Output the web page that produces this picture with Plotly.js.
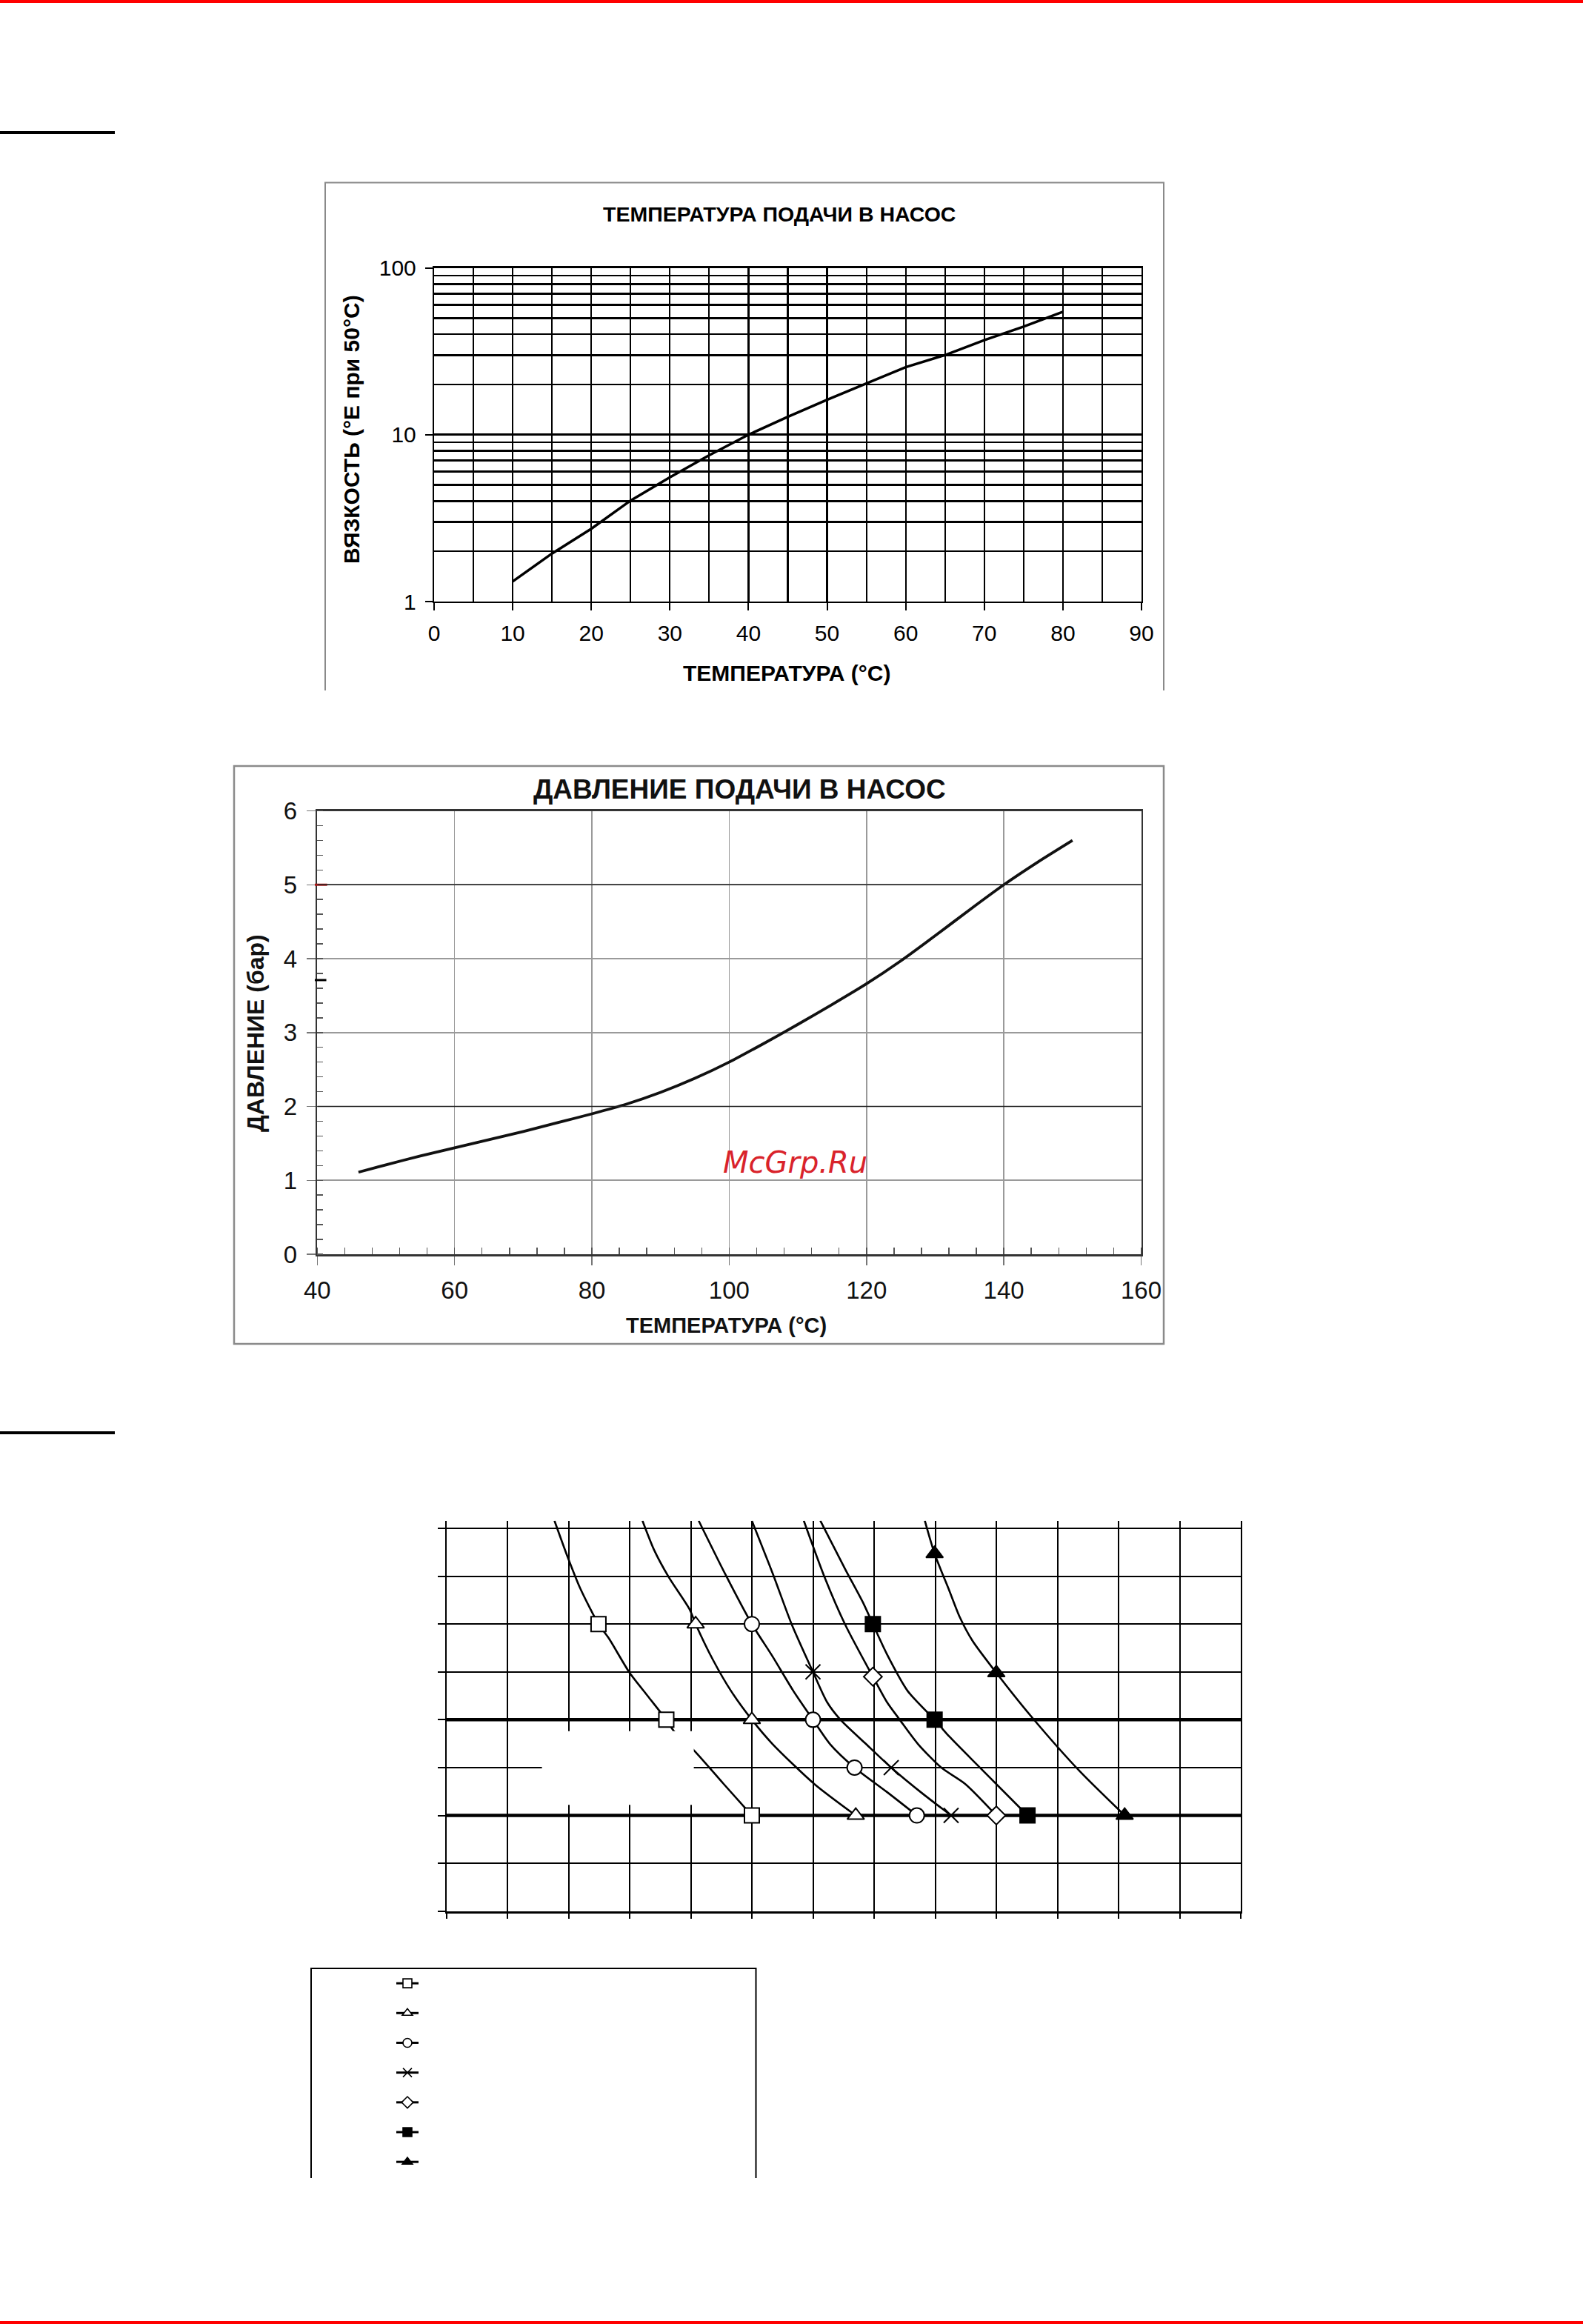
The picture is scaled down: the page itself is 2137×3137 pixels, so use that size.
<!DOCTYPE html>
<html>
<head>
<meta charset="utf-8">
<script src="https://cdn.plot.ly/plotly-3.0.1.min.js"></script>
<style>
  html, body { margin: 0; padding: 0; background: #fff; }
  #page { width: 2137px; height: 3137px; }
</style>
</head>
<body>
<div id="page"></div>
<script>
// ---------------- DATA ----------------
// Chart 1: viscosity vs temperature (log scale)
const viscTemp = [10, 15, 20, 25, 30, 35, 40, 45, 50, 55, 60, 65, 70, 75, 80];
const viscValue = [1.32, 1.94, 2.73, 4.03, 5.55, 7.53, 10, 12.8, 16.2, 20.2, 25.4, 30, 36.9, 44.4, 54.5];
const viscXTicks = [0, 10, 20, 30, 40, 50, 60, 70, 80, 90];
const viscYTicks = [1, 10, 100];

// Chart 2: pressure vs temperature
const pressTemp = [46, 50, 55, 60, 65, 70, 75, 80, 85, 90, 95, 100, 105, 110, 115, 120, 125, 130, 135, 140, 145, 150];
const pressValue = [1.11, 1.21, 1.33, 1.44, 1.55, 1.66, 1.78, 1.90, 2.03, 2.19, 2.38, 2.60, 2.85, 3.11, 3.38, 3.66, 3.97, 4.31, 4.66, 5.00, 5.31, 5.60];
const darkLevels2 = [2, 5];

// Chart 3: seven unlabeled curves (grid units)
const s1x = [1.77, 1.98, 2.19, 2.49, 2.66, 3.00, 3.30, 3.60, 3.72, 4.06, 4.53, 5.00];
const s1y = [8.16, 7.42, 6.75, 6.00, 5.70, 4.98, 4.49, 4.00, 3.77, 3.35, 2.67, 2.00];
const s1mx = [2.49, 3.60, 5.00];
const s1my = [6.00, 4.00, 2.00];

const s2x = [3.21, 3.40, 3.64, 3.98, 4.08, 4.36, 4.66, 5.00, 5.34, 6.02, 6.70];
const s2y = [8.16, 7.55, 6.98, 6.31, 6.00, 5.26, 4.60, 4.00, 3.49, 2.66, 2.00];
const s2mx = [4.08, 5.00, 6.70];
const s2my = [6.00, 4.00, 2.00];

const s3x = [4.13, 4.57, 5.00, 5.34, 5.68, 6.00, 6.28, 6.68, 7.21, 7.70];
const s3y = [8.16, 7.03, 6.00, 5.32, 4.60, 4.00, 3.49, 3.00, 2.49, 2.00];
const s3mx = [5.00, 6.00, 6.68, 7.70];
const s3my = [6.00, 4.00, 3.00, 2.00];

const s4x = [5.00, 5.34, 5.65, 6.00, 6.23, 6.45, 6.87, 7.28, 7.81, 8.26];
const s4y = [8.16, 7.06, 6.00, 5.00, 4.37, 4.00, 3.49, 3.00, 2.44, 2.00];
const s4mx = [6.00, 7.28, 8.26];
const s4my = [5.00, 3.00, 2.00];

const s5x = [5.85, 6.19, 6.53, 6.98, 7.21, 7.42, 7.72, 8.10, 8.49, 9.00];
const s5y = [8.16, 6.98, 5.98, 4.90, 4.37, 4.00, 3.49, 3.00, 2.66, 2.00];
const s5mx = [6.98, 9.00];
const s5my = [4.90, 2.00];

const s6x = [6.12, 6.53, 6.83, 6.98, 7.21, 7.55, 7.99, 8.23, 8.74, 9.51];
const s6y = [8.16, 7.14, 6.42, 6.00, 5.37, 4.60, 4.00, 3.65, 2.99, 2.00];
const s6mx = [6.98, 7.99, 9.51];
const s6my = [6.00, 4.00, 2.00];

const s7x = [7.83, 7.99, 8.23, 8.40, 8.61, 9.00, 9.59, 10.36, 11.10];
const s7y = [8.16, 7.47, 6.70, 6.15, 5.65, 4.98, 4.04, 2.93, 2.00];
const s7mx = [7.99, 9.00, 11.10];
const s7my = [7.47, 4.98, 2.00];

const thickLevels3 = [2, 4];

// ---------------- LAYOUT HELPERS ----------------
const W = 2137, H = 3137;
const px = v => v / W;
const py = v => 1 - v / H;
const FONT = 'Liberation Sans, Arial, sans-serif';

const seriesDefs = [
  {x: s1x, y: s1y, mx: s1mx, my: s1my, symbol: 'square', fill: '#fff', size: 20},
  {x: s2x, y: s2y, mx: s2mx, my: s2my, symbol: 'triangle-up', fill: '#fff', size: 20},
  {x: s3x, y: s3y, mx: s3mx, my: s3my, symbol: 'circle', fill: '#fff', size: 20},
  {x: s4x, y: s4y, mx: s4mx, my: s4my, symbol: 'x-thin-open', fill: '#000', size: 20},
  {x: s5x, y: s5y, mx: s5mx, my: s5my, symbol: 'diamond', fill: '#fff', size: 19},
  {x: s6x, y: s6y, mx: s6mx, my: s6my, symbol: 'square', fill: '#000', size: 20},
  {x: s7x, y: s7y, mx: s7mx, my: s7my, symbol: 'triangle-up', fill: '#000', size: 20}
];

const traces = [];
traces.push({
  x: viscTemp, y: viscValue, xaxis: 'x', yaxis: 'y', type: 'scatter', mode: 'lines',
  line: {color: '#000', width: 3.5}, showlegend: false, hoverinfo: 'skip'
});
traces.push({
  x: pressTemp, y: pressValue, xaxis: 'x2', yaxis: 'y2', type: 'scatter', mode: 'lines',
  line: {color: '#111', width: 3.8, shape: 'spline', smoothing: 0.6}, showlegend: false, hoverinfo: 'skip'
});
seriesDefs.forEach(s => {
  traces.push({
    x: s.x, y: s.y, xaxis: 'x3', yaxis: 'y3', type: 'scatter', mode: 'lines',
    line: {color: '#000', width: 2.6, shape: 'spline', smoothing: 0.7},
    showlegend: false, hoverinfo: 'skip', cliponaxis: true
  });
});
seriesDefs.forEach(s => {
  traces.push({
    x: s.mx, y: s.my, xaxis: 'x3', yaxis: 'y3', type: 'scatter', mode: 'markers',
    marker: {symbol: s.symbol, size: s.size, color: s.fill, line: {color: '#000', width: 2}},
    showlegend: false, hoverinfo: 'skip', cliponaxis: false
  });
});
// legend entries (no labels in the reference)
seriesDefs.forEach(s => {
  traces.push({
    x: [null], y: [null], xaxis: 'x3', yaxis: 'y3', type: 'scatter', mode: 'lines+markers',
    name: ' ', line: {color: '#000', width: 3},
    marker: {symbol: s.symbol, size: 12, color: s.fill, line: {color: '#000', width: 1.6}},
    showlegend: true, hoverinfo: 'skip'
  });
});

const shapes = [
  // red page rules
  {type: 'rect', xref: 'paper', yref: 'paper', x0: 0, x1: 1, y0: py(4), y1: 1, fillcolor: '#ff0000', line: {width: 0}},
  {type: 'rect', xref: 'paper', yref: 'paper', x0: 0, x1: 1, y0: 0, y1: py(3133), fillcolor: '#ff0000', line: {width: 0}},
  // black section rules
  {type: 'rect', xref: 'paper', yref: 'paper', x0: 0, x1: px(155), y0: py(181), y1: py(177), fillcolor: '#000', line: {width: 0}},
  {type: 'rect', xref: 'paper', yref: 'paper', x0: 0, x1: px(155), y0: py(1936), y1: py(1932), fillcolor: '#000', line: {width: 0}},
  // chart 1 frame (open at bottom)
  {type: 'path', xref: 'paper', yref: 'paper',
   path: `M ${px(439)},${py(932)} L ${px(439)},${py(246.5)} L ${px(1571)},${py(246.5)} L ${px(1571)},${py(932)}`,
   line: {color: '#8a8a8a', width: 2}},
  // chart 2 frame
  {type: 'rect', xref: 'paper', yref: 'paper', x0: px(316), x1: px(1571), y0: py(1814), y1: py(1034),
   line: {color: '#8a8a8a', width: 2.5}},
  // legend frame (open at bottom)
  {type: 'path', xref: 'paper', yref: 'paper',
   path: `M ${px(420)},${py(2940)} L ${px(420)},${py(2657)} L ${px(1020.5)},${py(2657)} L ${px(1020.5)},${py(2940)}`,
   line: {color: '#000', width: 2}},
  // chart 2 axis marks
  {type: 'line', xref: 'x2 domain', yref: 'y2', x0: -0.003, x1: 0.012, y0: 5, y1: 5, line: {color: '#b01818', width: 3}},
  {type: 'line', xref: 'x2 domain', yref: 'y2', x0: -0.003, x1: 0.011, y0: 3.71, y1: 3.71, line: {color: '#000', width: 3}}
];
darkLevels2.forEach(v => {
  shapes.push({type: 'line', xref: 'x2', yref: 'y2', x0: 40, x1: 160, y0: v, y1: v,
    line: {color: '#222', width: 1.5}, layer: 'above'});
});
thickLevels3.forEach(v => {
  shapes.push({type: 'line', xref: 'x3', yref: 'y3', x0: 0, x1: 13, y0: v, y1: v,
    line: {color: '#000', width: 4.5}, layer: 'below'});
});
// blanked label box on chart 3
shapes.push({type: 'rect', xref: 'x3', yref: 'y3', x0: 1.565, x1: 4.05, y0: 2.22, y1: 3.76,
  fillcolor: '#fff', line: {width: 0}, layer: 'above'});

const annotations = [
  {text: '<b>ТЕМПЕРАТУРА ПОДАЧИ В НАСОС</b>', x: px(1052), y: py(289), font: {size: 28.5, color: '#000', family: FONT}},
  {text: '<b>ТЕМПЕРАТУРА (°C)</b>', x: px(1062), y: py(909), font: {size: 30, color: '#000', family: FONT}},
  {text: '<b>ВЯЗКОСТЬ (°E при 50°C)</b>', x: px(474), y: py(580), textangle: -90, font: {size: 30, color: '#000', family: FONT}},
  {text: '<b>ДАВЛЕНИЕ ПОДАЧИ В НАСОС</b>', x: px(998), y: py(1065), font: {size: 37, color: '#111', family: FONT}},
  {text: '<b>ТЕМПЕРАТУРА (°C)</b>', x: px(980), y: py(1789), font: {size: 29, color: '#111', family: FONT}},
  {text: '<b>ДАВЛЕНИЕ (бар)</b>', x: px(345), y: py(1395), textangle: -90, font: {size: 32, color: '#111', family: FONT}},
  {text: 'McGrp.Ru', x: px(1073), y: py(1569), font: {size: 40, color: '#d9232b', family: 'DejaVu Sans', style: 'italic'}}
].map(a => Object.assign({xref: 'paper', yref: 'paper', xanchor: 'center', yanchor: 'middle', showarrow: false}, a));

const layout = {
  width: W, height: H,
  margin: {l: 0, r: 0, t: 0, b: 0, pad: 0},
  paper_bgcolor: '#fff', plot_bgcolor: '#fff',
  font: {family: FONT, color: '#000'},
  showlegend: true,
  // chart 1
  xaxis: {
    domain: [px(586), px(1541)], range: [0, 90], anchor: 'y',
    tickmode: 'array', tickvals: viscXTicks, ticktext: viscXTicks.map(String),
    ticks: 'outside', ticklen: 10, tickwidth: 2, tickcolor: '#000',
    showgrid: true, gridcolor: '#000', gridwidth: 2.2,
    minor: {dtick: 5, tick0: 0, showgrid: true, gridcolor: '#000', gridwidth: 2.2, ticks: ''},
    showline: true, mirror: true, linecolor: '#000', linewidth: 2.2, zeroline: false,
    tickfont: {size: 30, color: '#000', family: FONT}, ticklabelstandoff: 5, fixedrange: true
  },
  yaxis: {
    domain: [py(812), py(361.5)], type: 'log', range: [0, 2], anchor: 'x',
    tickmode: 'array', tickvals: viscYTicks, ticktext: viscYTicks.map(String),
    ticks: 'outside', ticklen: 10, tickwidth: 2, tickcolor: '#000',
    showgrid: true, gridcolor: '#000', gridwidth: 2.6,
    minor: {dtick: 'D1', showgrid: true, gridcolor: '#000', gridwidth: 2.6, ticks: ''},
    showline: true, mirror: true, linecolor: '#000', linewidth: 2.2, zeroline: false,
    tickfont: {size: 30, color: '#000', family: FONT}, ticklabelstandoff: 6, fixedrange: true
  },
  // chart 2
  xaxis2: {
    domain: [px(428.3), px(1540.5)], range: [40, 160], anchor: 'y2', dtick: 20, tick0: 40,
    ticks: 'outside', ticklen: 12, tickwidth: 1.5, tickcolor: '#777',
    showgrid: true, gridcolor: '#9a9a9a', gridwidth: 1.6,
    minor: {dtick: 4, tick0: 40, ticks: 'inside', ticklen: 9, tickwidth: 1.5, tickcolor: '#555', showgrid: false},
    showline: true, mirror: true, linecolor: '#333', linewidth: 2.5, zeroline: false,
    tickfont: {size: 33, color: '#111', family: FONT}, ticklabelstandoff: 6, fixedrange: true
  },
  yaxis2: {
    domain: [py(1693), py(1094.5)], range: [0, 6], anchor: 'x2', dtick: 1, tick0: 0,
    ticks: 'outside', ticklen: 12, tickwidth: 1.5, tickcolor: '#777',
    showgrid: true, gridcolor: '#9a9a9a', gridwidth: 1.6,
    minor: {dtick: 0.2, tick0: 0, ticks: 'inside', ticklen: 8, tickwidth: 1.5, tickcolor: '#555', showgrid: false},
    showline: true, mirror: true, linecolor: '#333', linewidth: 2.5, zeroline: false,
    tickfont: {size: 33, color: '#111', family: FONT}, ticklabelstandoff: 6, fixedrange: true
  },
  // chart 3
  xaxis3: {
    domain: [px(602.5), px(1675)], range: [0, 13], anchor: 'y3', dtick: 1, tick0: 0,
    ticks: 'outside', ticklen: 7, tickwidth: 2, tickcolor: '#000', showticklabels: false,
    showgrid: true, gridcolor: '#000', gridwidth: 2,
    showline: true, mirror: false, linecolor: '#000', linewidth: 3.5, zeroline: false, fixedrange: true
  },
  yaxis3: {
    domain: [py(2579.7), py(2052.7)], range: [0, 8.16], anchor: 'x3', dtick: 1, tick0: 0,
    ticks: 'outside', ticklen: 10, tickwidth: 2, tickcolor: '#000', showticklabels: false,
    showgrid: true, gridcolor: '#000', gridwidth: 2,
    showline: true, mirror: true, linecolor: '#000', linewidth: 2, zeroline: false, fixedrange: true
  },
  legend: {
    x: px(530), y: py(2652), xanchor: 'left', yanchor: 'top',
    bgcolor: 'rgba(0,0,0,0)', borderwidth: 0, font: {size: 28.6, family: FONT},
    tracegroupgap: 0, itemclick: false, itemdoubleclick: false, orientation: 'v'
  },
  shapes: shapes,
  annotations: annotations
};

Plotly.newPlot('page', traces, layout, {staticPlot: true, displayModeBar: false, responsive: false});
</script>
</body>
</html>
